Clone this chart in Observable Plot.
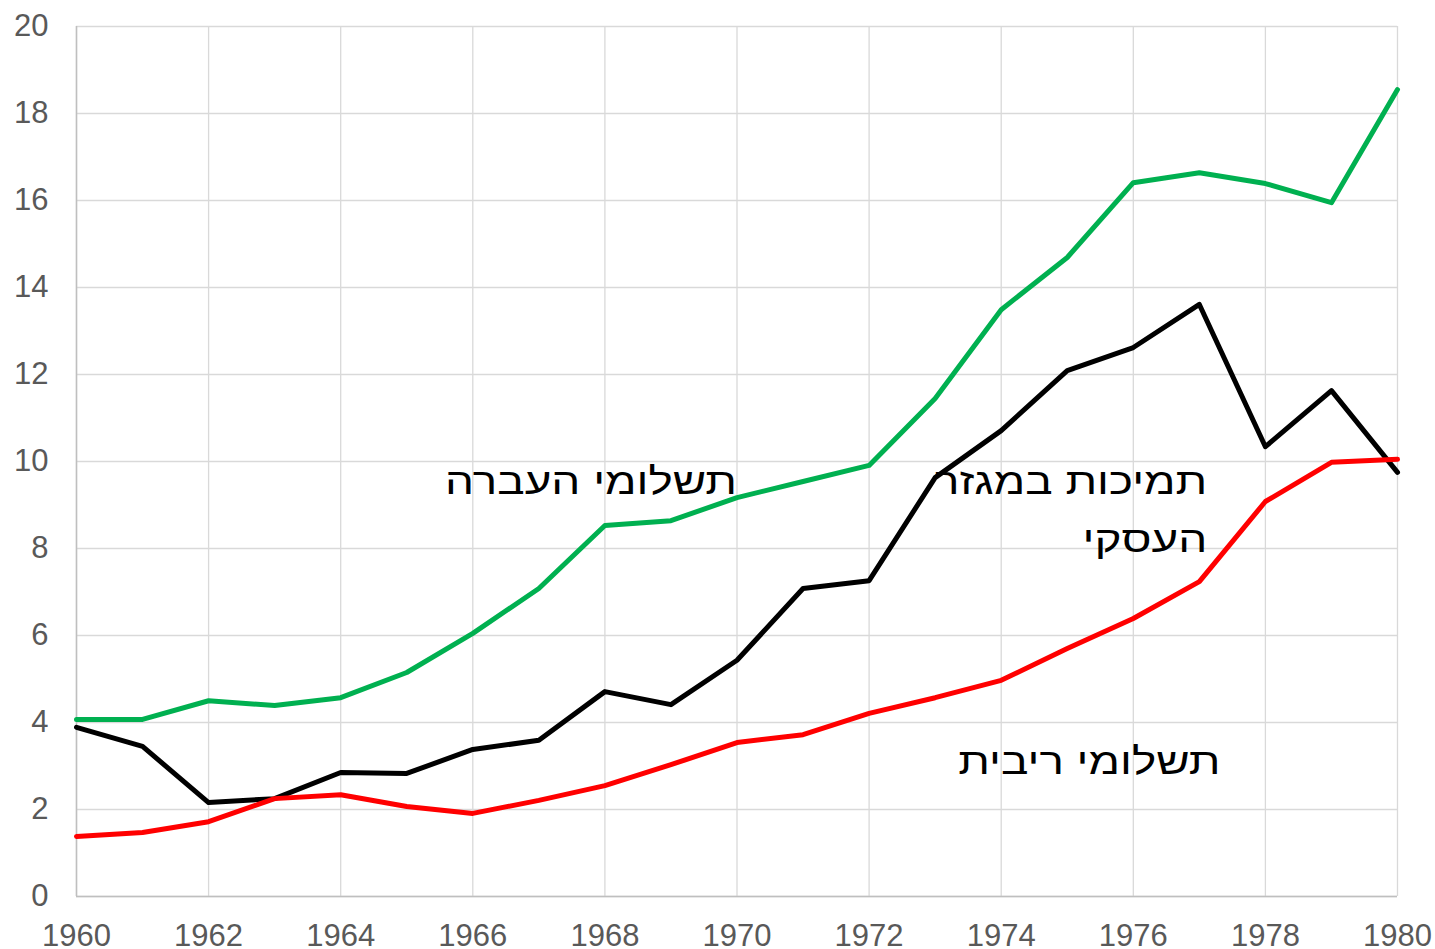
<!DOCTYPE html>
<html>
<head>
<meta charset="utf-8">
<script src="https://cdn.jsdelivr.net/npm/d3@7"></script>
<script src="https://cdn.jsdelivr.net/npm/@observablehq/plot@0.6"></script>
<style>
  html, body { margin: 0; padding: 0; background: #fff; }
  #chart svg { display: block; }
</style>
</head>
<body>
<div id="chart"></div>
<script>
const years = d3.range(1960, 1981);
const transferPayments = [4.07, 4.07, 4.5, 4.39, 4.57, 5.15, 6.05, 7.08, 8.53, 8.64, 9.17, 9.54, 9.91, 11.45, 13.49, 14.69, 16.41, 16.64, 16.39, 15.95, 18.55];
const businessSubsidies = [3.89, 3.45, 2.16, 2.25, 2.85, 2.83, 3.38, 3.59, 4.71, 4.41, 5.43, 7.08, 7.26, 9.63, 10.71, 12.09, 12.62, 13.61, 10.34, 11.63, 9.75];
const interestPayments = [1.38, 1.47, 1.72, 2.25, 2.34, 2.07, 1.91, 2.21, 2.55, 3.03, 3.54, 3.72, 4.21, 4.57, 4.97, 5.70, 6.39, 7.24, 9.08, 9.98, 10.05];
const xTicks = d3.range(1960, 1981, 2);
const yTicks = d3.range(0, 21, 2);

const seriesNames = ["תשלומי העברה", "תמיכות במגזר העסקי", "תשלומי ריבית"];
const seriesColors = ["#00b050", "#000000", "#ff0000"];
const seriesValues = [transferPayments, businessSubsidies, interestPayments];

const rows = [];
seriesValues.forEach((vals, i) => {
  vals.forEach((v, j) => rows.push({series: seriesNames[i], year: years[j], value: v}));
});

const labels = [
  {text: "תשלומי העברה", year: 1970.0, value: 9.69},
  {text: "תמיכות במגזר\nהעסקי", year: 1977.12, value: 9.02},
  {text: "תשלומי ריבית", year: 1977.32, value: 3.25}
];

const font = "'Liberation Sans', Arial, sans-serif";

const chart = Plot.plot({
  width: 1435,
  height: 949,
  marginLeft: 76,
  marginRight: 38,
  marginTop: 26,
  marginBottom: 53,
  style: {fontFamily: font, background: "#fff"},
  x: {domain: [1960, 1980]},
  y: {domain: [0, 20]},
  color: {domain: seriesNames, range: seriesColors},
  marks: [
    Plot.gridX(xTicks, {stroke: "#d9d9d9", strokeOpacity: 1, strokeWidth: 1.3}),
    Plot.gridY(yTicks, {stroke: "#d9d9d9", strokeOpacity: 1, strokeWidth: 1.3}),
    Plot.ruleX([1960], {stroke: "#bfbfbf", strokeWidth: 1.5}),
    Plot.ruleY([0], {stroke: "#bfbfbf", strokeWidth: 1.5}),
    Plot.line(rows, {x: "year", y: "value", z: "series", stroke: "series", strokeWidth: 5, strokeLinejoin: "round", strokeLinecap: "round"}),
    Plot.text(labels, {x: "year", y: "value", text: "text", textAnchor: "end", lineAnchor: "middle", fontSize: 37, lineHeight: 1.57, fill: "#000", className: "series-label"}),
    Plot.axisX({ticks: xTicks, tickFormat: d => String(d), tickSize: 0, tickPadding: 27, fontSize: 31, fill: "#595959", label: null}),
    Plot.axisY({ticks: yTicks, tickSize: 0, tickPadding: 28, fontSize: 31, fill: "#595959", label: null})
  ]
});
// widen the Hebrew labels horizontally (reference font has wider Hebrew glyphs), anchored at their right end
chart.querySelectorAll("g[aria-label='text'] text").forEach(el => {
  const t = el.getAttribute("transform") || "";
  el.setAttribute("transform", t + " scale(1.24,1)");
});
document.getElementById("chart").appendChild(chart);
</script>
</body>
</html>
